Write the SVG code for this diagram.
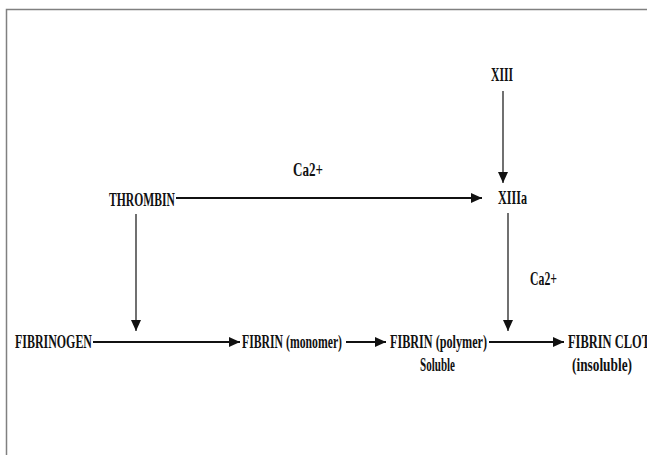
<svg xmlns="http://www.w3.org/2000/svg" width="647" height="455" viewBox="0 0 647 455">
<defs>
<marker id="ah" markerUnits="userSpaceOnUse" markerWidth="12" markerHeight="10" refX="11" refY="5" orient="auto">
<path d="M0,0 L11,5 L0,10 Z" fill="#111"/>
</marker>
<style>
text{font-family:"Liberation Serif","Times New Roman",serif;font-weight:bold;font-size:18px;fill:#111}
.ln{stroke:#111;fill:none;marker-end:url(#ah)}
.v{stroke-width:1.2}
.h{stroke-width:1.8}
</style>
</defs>
<rect x="6.5" y="9.5" width="660" height="470" fill="#fff" stroke="#808080" stroke-width="1.5"/>
<g id="connectors">
<line class="ln v" x1="503" y1="91" x2="503" y2="183"/>
<line class="ln h" x1="176" y1="198" x2="482" y2="198"/>
<line class="ln v" x1="136" y1="214" x2="136" y2="331"/>
<line class="ln v" x1="508" y1="213" x2="508" y2="331"/>
<line class="ln h" x1="93" y1="342" x2="240" y2="342"/>
<line class="ln h" x1="346" y1="342" x2="386" y2="342"/>
<line class="ln h" x1="489" y1="342" x2="564" y2="342"/>
</g>
<g id="xiii"><text x="491" y="81" textLength="22" lengthAdjust="spacingAndGlyphs">XIII</text></g>
<g id="ca-top"><text x="293" y="176" textLength="30" lengthAdjust="spacingAndGlyphs">Ca2+</text></g>
<g id="thrombin"><text x="109" y="206" textLength="66" lengthAdjust="spacingAndGlyphs">THROMBIN</text></g>
<g id="xiiia"><text x="498" y="204" textLength="29" lengthAdjust="spacingAndGlyphs">XIIIa</text></g>
<g id="ca-right"><text x="530" y="285" textLength="27" lengthAdjust="spacingAndGlyphs">Ca2+</text></g>
<g id="fibrinogen"><text x="15" y="348" textLength="77" lengthAdjust="spacingAndGlyphs">FIBRINOGEN</text></g>
<g id="fibrin-monomer"><text x="242" y="348" textLength="100" lengthAdjust="spacingAndGlyphs">FIBRIN (monomer)</text></g>
<g id="fibrin-polymer"><text x="390" y="348" textLength="97" lengthAdjust="spacingAndGlyphs">FIBRIN (polymer)</text><text x="420" y="371" textLength="35" lengthAdjust="spacingAndGlyphs">Soluble</text></g>
<g id="fibrin-clot"><text x="568" y="348" textLength="82" lengthAdjust="spacingAndGlyphs">FIBRIN CLOT</text><text x="572" y="371" textLength="60" lengthAdjust="spacingAndGlyphs">(insoluble)</text></g>
</svg>
